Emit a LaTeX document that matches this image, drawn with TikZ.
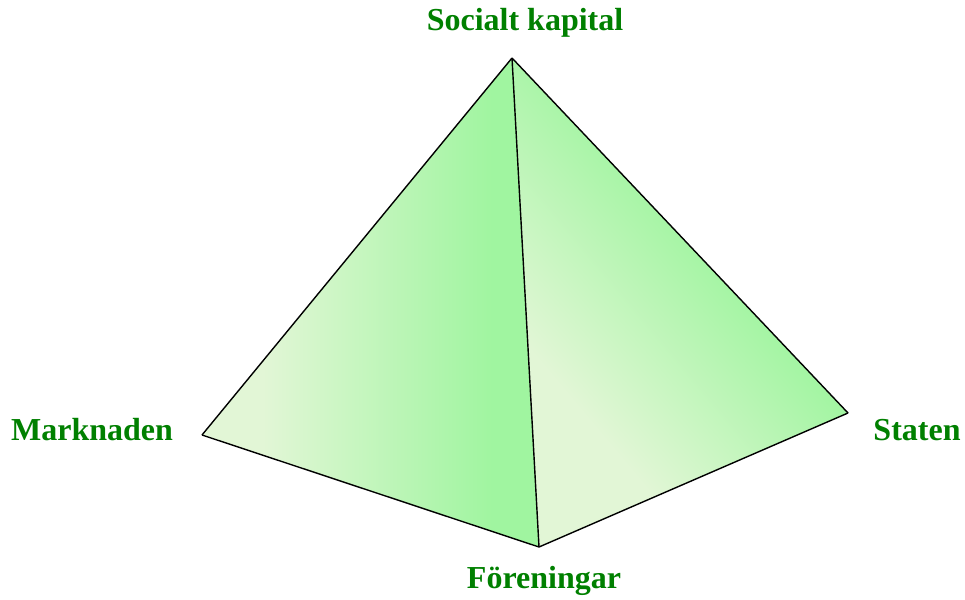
\documentclass[tikz,border=0pt]{standalone}
\usepackage{fontspec}
\setmainfont{Liberation Serif}
\definecolor{pale}{RGB}{226,246,214}
\definecolor{leaf}{RGB}{160,245,160}
\definecolor{labelgreen}{RGB}{0,128,0}
\pgfdeclarehorizontalshading{lface}{100bp}{color(0bp)=(pale); color(34bp)=(pale); color(68bp)=(leaf); color(100bp)=(leaf)}
\pgfdeclareverticalshading{rface}{100bp}{color(0bp)=(pale); color(32bp)=(pale); color(58bp)=(leaf); color(100bp)=(leaf)}
\begin{document}
\begin{tikzpicture}[x=1pt,y=-1pt,
  lbl/.style={text=labelgreen,font=\fontsize{32}{36}\selectfont\bfseries,inner sep=0pt},
  edge/.style={draw=black,line width=1.4pt,line join=round}]
\useasboundingbox (0,0) rectangle (965,599);
\coordinate (T) at (512,58);
\coordinate (L) at (202,435);
\coordinate (B) at (539,547);
\coordinate (R) at (848,413);
\shade[shading=lface] (T) -- (L) -- (B) -- cycle;
\shade[shading=rface,shading angle=-50] (T) -- (B) -- (R) -- cycle;
\draw[edge] (T) -- (L);
\draw[edge] (L) -- (B);
\draw[edge] (B) -- (R);
\draw[edge] (R) -- (T);
\draw[edge] (T) -- (B);
\node[lbl] (soc) at (525,23) {Socialt kapital};
\node[lbl] (mark) at (92,430) {Marknaden};
\node[lbl] (stat) at (917,430) {Staten};
\node[lbl] (fore) at (544,581) {Föreningar};
\end{tikzpicture}
\end{document}
